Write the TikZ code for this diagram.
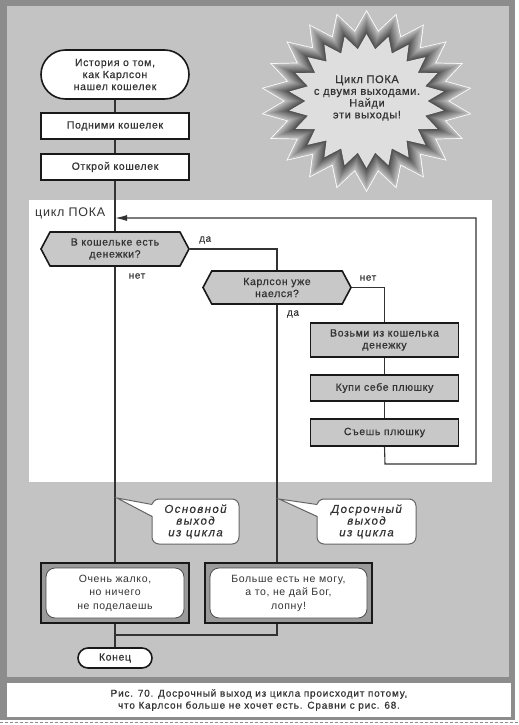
\documentclass[tikz,border=0pt]{standalone}
\usepackage{fontspec}
\setmainfont{Liberation Sans}[LetterSpace=6]
\newfontfamily\boldish{Liberation Sans}[LetterSpace=6,FakeBold=0.6]
\newfontfamily\captionfont{Liberation Sans}[LetterSpace=8,FakeBold=0.5]
\newfontfamily\calloutfont{Liberation Sans}[LetterSpace=12,FakeBold=0.4]
\usetikzlibrary{shapes.misc,shapes.symbols,arrows.meta,calc}
\definecolor{framegray}{HTML}{8C8C8C}
\definecolor{panel}{HTML}{C3C3C3}
\definecolor{boxgray}{HTML}{C8C8C8}
\definecolor{ink}{HTML}{333333}
\definecolor{outerbox}{HTML}{9A9A9A}
\begin{document}
\begin{tikzpicture}[x=1pt,y=-1pt,
  txt/.style={font=\boldish\fontsize{10.5}{12}\selectfont, text=ink, align=center},
  term/.style={txt, rounded rectangle, draw=black!90, line width=1.6pt, fill=white, inner sep=0pt},
  proc/.style={txt, rectangle, draw=black!90, line width=1.6pt, inner sep=0pt},
  dec/.style={txt, signal, signal to=west and east, signal pointer angle=124, draw=black!90, line width=1.6pt, fill=boxgray, inner sep=0pt},
  conn/.style={draw=ink, line width=1.1pt},
  lbl/.style={font=\boldish\fontsize{10}{11}\selectfont, text=ink, inner sep=0pt},
  endframe/.style={rectangle, draw=black!90, line width=1.8pt, fill=outerbox, inner sep=0pt},
  endtext/.style={align=center, text=ink, font=\fontsize{10.5}{13.5}\selectfont, rectangle, rounded corners=9pt, draw=black!70, line width=0.8pt, fill=white, inner sep=0pt},
  callout/.style={align=center, text=ink, font=\calloutfont\fontsize{11.5}{11.7}\itshape\selectfont, rectangle, rounded corners=7pt, draw=black!60, line width=1pt, fill=white, inner sep=0pt, minimum height=45}
]
% canvas and frame
\fill[white] (0,0) rectangle (519,725);
\useasboundingbox (0,0) rectangle (519,725);
\fill[framegray] (0,0) rectangle (515,720);
\fill[panel] (7,6) rectangle (509,677);
\fill[white] (7,683) rectangle (511,717);
\draw[framegray, line width=1pt, dash pattern=on 3pt off 2pt] (0,722) -- (519,722);
\node[align=center, text=ink, font=\captionfont\fontsize{10}{12}\selectfont] (caption) at (259,700) {Рис. 70. Досрочный выход из цикла происходит потому,\\что Карлсон больше не хочет есть. Сравни с рис. 68.};

% loop region
\fill[white] (29,200) rectangle (492,482);
\node[text=ink, inner sep=0pt, font=\fontsize{12.5}{14}\selectfont, anchor=west] (looplabel) at (35,213) {цикл ПОКА};

% star
\foreach \i in {0,...,14} {
  \pgfmathsetmacro\s{1-0.018*\i}
  \pgfmathsetmacro\c{ifthenelse(\i==0,0,22+3.4*\i)}
  \fill[black!\c] plot[samples at={0,...,43}, variable=\k]
    ({366.5+ifthenelse(mod(\k,2)==0,106,83)*\s*cos(\k*360/44+90)},
     {101+ifthenelse(mod(\k,2)==0,91,71)*\s*sin(\k*360/44+90)}) -- cycle;
}
\fill[black!13] plot[samples at={0,...,43}, variable=\k]
    ({366.5+ifthenelse(mod(\k,2)==0,106,83)*0.735*cos(\k*360/44+90)},
     {101+ifthenelse(mod(\k,2)==0,91,71)*0.735*sin(\k*360/44+90)}) -- cycle;
\node[txt, font=\boldish\fontsize{11}{11.8}\selectfont] (star) at (367,98) {Цикл ПОКА\\с двумя выходами.\\Найди\\эти выходы!};

% nodes
\node[term, minimum width=148, minimum height=49] (start) at (115,74.5) {История о том,\\как Карлсон\\нашел кошелек};
\node[proc, fill=white, minimum width=148, minimum height=26] (b1) at (115,126) {Подними кошелек};
\node[proc, fill=white, minimum width=148, minimum height=26] (b2) at (115,167) {Открой кошелек};
\node[dec, minimum width=148, minimum height=34] (d1) at (115,249) {В кошельке есть\\денежки?};
\node[dec, minimum width=148, minimum height=33] (d2) at (277,287.5) {Карлсон уже\\наелся?};
\node[proc, fill=boxgray, minimum width=148, minimum height=34] (b3) at (384.5,340) {Возьми из кошелька\\денежку};
\node[proc, fill=boxgray, minimum width=148, minimum height=26] (b4) at (384.5,388) {Купи себе плюшку};
\node[proc, fill=boxgray, minimum width=148, minimum height=27] (b5) at (384.5,432.5) {Съешь плюшку};

\node[endframe, minimum width=148, minimum height=60] (e1) at (115,593) {};
\node[endtext, minimum width=138, minimum height=50] (e1t) at (e1) {Очень жалко,\\но ничего\\не поделаешь};
\node[endframe, minimum width=167, minimum height=60] (e2) at (288.5,593) {};
\node[endtext, minimum width=157, minimum height=50] (e2t) at (e2) {Больше есть не могу,\\а то, не дай Бог,\\лопну!};
\node[term, minimum width=74, minimum height=20] (fin) at (115,658) {Конец};

% connectors
\coordinate (loopin) at (115,218);
\coordinate (lr1) at (385,464);
\coordinate (lr2) at (476,464);
\coordinate (lr3) at (476,218);
\coordinate (join) at (115,635);
\draw[conn] (start.south) -- (b1.north);
\draw[conn] (b1.south) -- (b2.north);
\draw[conn] (b2.south) -- (d1.north);
\draw[conn] (d1.south) -- (e1.north);
\draw[conn] (d1.east) -| (d2.north);
\draw[conn] (d2.east) -| (b3.north);
\draw[conn] (d2.south) -- (d2.south |- e2.north);
\draw[conn] (b3.south) -- (b4.north);
\draw[conn] (b4.south) -- (b5.north);
\draw[conn, -{Latex[length=12pt,width=6pt]}] (b5.south) -- (lr1) -- (lr2) -- (lr3) -- (loopin);
\draw[conn] (e2.south -| d2.south) -- (d2.south |- join) -- (join);
\draw[conn] (e1.south) -- (fin.north);

% labels
\node[lbl, anchor=west] (yes1) at (199,240) {да};
\node[lbl] (no1) at (137,276) {нет};
\node[lbl] (no2) at (368,278) {нет};
\node[lbl] (yes2) at (293,314) {да};

% callouts
\node[callout, minimum width=87] (c1) at (195.5,521.5) {Основной\\выход\\из цикла};
\coordinate (p1) at (117,498);
\coordinate (c1a) at ($(c1.north west)+(0.6,6)$);
\coordinate (c1b) at ($(c1.north west)+(0.6,18)$);
\fill[white] (p1) -- ($(c1a)+(1.5,0)$) -- ($(c1b)+(1.5,0)$) -- cycle;
\draw[black!60, line width=1pt] (c1a) -- (p1) -- (c1b);

\node[callout, minimum width=99] (c2) at (366.5,521.5) {Досрочный\\выход\\из цикла};
\coordinate (p2) at (279,499);
\coordinate (c2a) at ($(c2.north west)+(0.6,6)$);
\coordinate (c2b) at ($(c2.north west)+(0.6,18)$);
\fill[white] (p2) -- ($(c2a)+(1.5,0)$) -- ($(c2b)+(1.5,0)$) -- cycle;
\draw[black!60, line width=1pt] (c2a) -- (p2) -- (c2b);
\end{tikzpicture}
\end{document}
